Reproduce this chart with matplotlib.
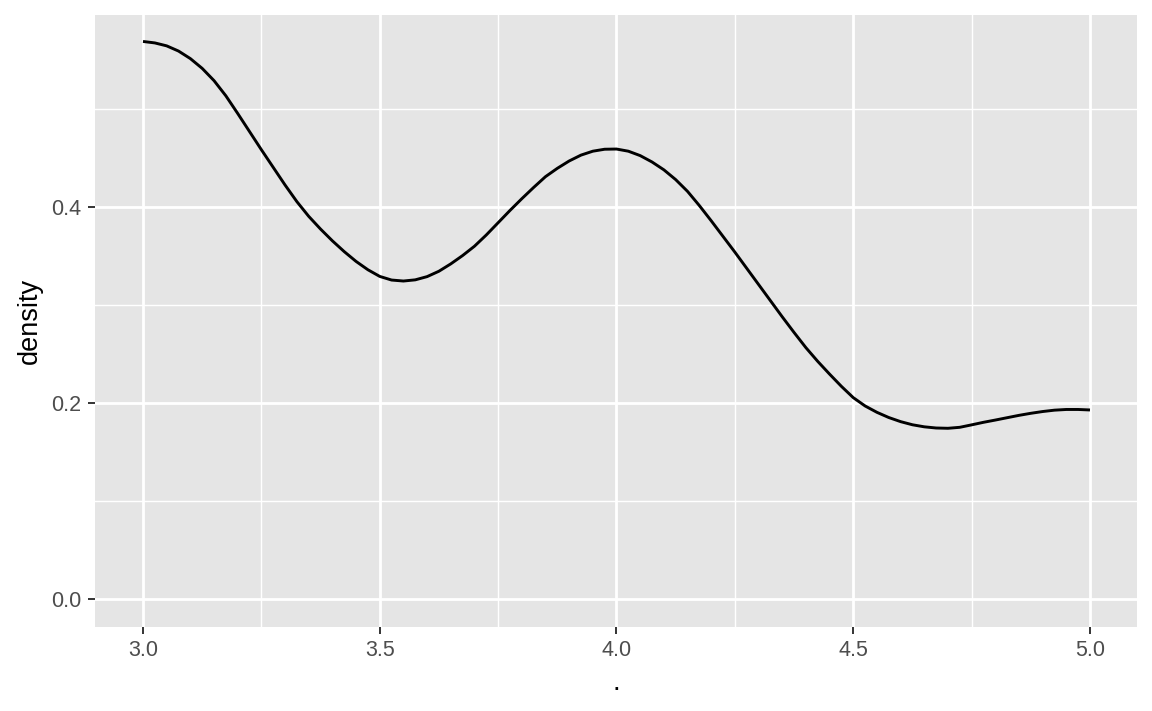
import matplotlib
matplotlib.use("Agg")
import matplotlib.pyplot as plt
from matplotlib.ticker import FixedLocator

x_vals = [3.000, 3.025, 3.050, 3.075, 3.100, 3.125, 3.150, 3.175, 3.200, 3.225,
          3.250, 3.275, 3.300, 3.325, 3.350, 3.375, 3.400, 3.425, 3.450, 3.475,
          3.500, 3.525, 3.550, 3.575, 3.600, 3.625, 3.650, 3.675, 3.700, 3.725,
          3.750, 3.775, 3.800, 3.825, 3.850, 3.875, 3.900, 3.925, 3.950, 3.975,
          4.000, 4.025, 4.050, 4.075, 4.100, 4.125, 4.150, 4.175, 4.200, 4.225,
          4.250, 4.275, 4.300, 4.325, 4.350, 4.375, 4.400, 4.425, 4.450, 4.475,
          4.500, 4.525, 4.550, 4.575, 4.600, 4.625, 4.650, 4.675, 4.700, 4.725,
          4.750, 4.775, 4.800, 4.825, 4.850, 4.875, 4.900, 4.925, 4.950, 4.975,
          5.000]
density = [0.5690, 0.5675, 0.5645, 0.5592, 0.5515, 0.5415, 0.5290, 0.5135, 0.4955, 0.4770,
           0.4585, 0.4405, 0.4225, 0.4055, 0.3905, 0.3775, 0.3655, 0.3545, 0.3445, 0.3360,
           0.3292, 0.3255, 0.3245, 0.3257, 0.3290, 0.3345, 0.3420, 0.3505, 0.3600, 0.3715,
           0.3840, 0.3965, 0.4085, 0.4200, 0.4310, 0.4395, 0.4470, 0.4530, 0.4570, 0.4590,
           0.4592, 0.4570, 0.4525, 0.4460, 0.4380, 0.4280, 0.4160, 0.4015, 0.3860, 0.3700,
           0.3540, 0.3375, 0.3210, 0.3045, 0.2880, 0.2720, 0.2565, 0.2425, 0.2295, 0.2170,
           0.2055, 0.1970, 0.1905, 0.1852, 0.1810, 0.1778, 0.1757, 0.1745, 0.1742, 0.1752,
           0.1777, 0.1803, 0.1826, 0.1850, 0.1874, 0.1895, 0.1913, 0.1927, 0.1934, 0.1934,
           0.1929]

x_ticks = [3.0, 3.5, 4.0, 4.5, 5.0]
x_minor = [3.25, 3.75, 4.25, 4.75]
y_ticks = [0.0, 0.2, 0.4]
y_minor = [0.1, 0.3, 0.5]

plt.rcParams['font.family'] = ['Liberation Sans', 'DejaVu Sans']

fig = plt.figure(figsize=(11.52, 7.11), dpi=100)
ax = fig.add_axes([95/1152, 1-627/711, (1137-95)/1152, (627-15)/711])
ax.set_facecolor('#E5E5E5')

ax.xaxis.set_major_locator(FixedLocator(x_ticks))
ax.xaxis.set_minor_locator(FixedLocator(x_minor))
ax.yaxis.set_major_locator(FixedLocator(y_ticks))
ax.yaxis.set_minor_locator(FixedLocator(y_minor))
ax.set_xticklabels([f"{v:.1f}" for v in x_ticks])
ax.set_yticklabels([f"{v:.1f}" for v in y_ticks])

ax.grid(which='major', color='white', linewidth=2.0)
ax.grid(which='minor', color='white', linewidth=1.0)
ax.set_axisbelow(True)

ax.plot(x_vals, density, color='black', linewidth=2.1,
        solid_capstyle='butt', solid_joinstyle='round')

ax.set_xlim(2.8986, 5.0993)
ax.set_ylim(-0.0286, 0.596)

for s in ax.spines.values():
    s.set_visible(False)

ax.tick_params(which='major', length=5.3, width=1.4, color='#333333',
               labelsize=15.5, labelcolor='#4D4D4D', pad=4.3)
ax.tick_params(which='minor', length=0)

ax.set_xlabel('.', fontsize=19.5, color='black', labelpad=6)
ax.set_ylabel('density', fontsize=19.5, color='black', labelpad=6)

fig.savefig('out.png', dpi=100, facecolor='white')
